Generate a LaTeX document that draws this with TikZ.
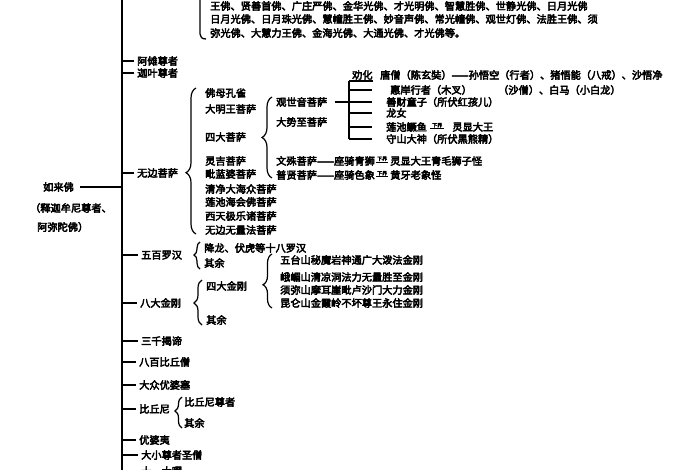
\documentclass[tikz,border=0pt]{standalone}
\usepackage{fontspec}
\newfontfamily\cjk{Noto Sans CJK SC}[FakeBold=4]
\usetikzlibrary{decorations.pathreplacing,calc}
\tikzset{
  lab/.style={anchor=west,inner sep=0pt,font=\cjk\fontsize{10.2}{12}\selectfont},
  sm/.style={inner sep=0pt,font=\cjk\fontsize{5}{5}\selectfont},
  ln/.style={line width=1.3pt},
  spn/.style={line width=2pt},
  thinln/.style={line width=0.7pt},
  bra/.style 2 args={decorate,decoration={brace,amplitude=#1,aspect=#2},line width=1.2pt},
}
\begin{document}
\begin{tikzpicture}[x=1pt,y=-1pt]
\useasboundingbox[fill=white] (0,0) rectangle (700,470);

% top list
\node[lab] (L1) at (210,6) {王佛、贤善首佛、广庄严佛、金华光佛、才光明佛、智慧胜佛、世静光佛、日月光佛};
\node[lab] (L2) at (210,19) {日月光佛、日月珠光佛、慧幢胜王佛、妙音声佛、常光幢佛、观世灯佛、法胜王佛、须};
\node[lab] (L3) at (210,33) {弥光佛、大慧力王佛、金海光佛、大通光佛、才光佛等。};
\coordinate (tb1) at (200,-3);
\coordinate (tb2) at (200,34);
\coordinate (tb3) at (206,39);
\draw[ln] (tb1) -- (tb2) .. controls (200,37) and (202,39) .. (tb3);

% spine
\coordinate (sT) at (122,-3);
\coordinate (sB) at (122,473);
\draw[spn] (sT) -- (sB);

\node[lab] (anan) at (137,61) {阿傩尊者};
\node[lab] (jiaye) at (137,73) {迦叶尊者};
\node[lab] (wubian) at (137,173) {无边菩萨};
\node[lab] (wubai) at (141,255) {五百罗汉};
\node[lab] (bada) at (140,303) {八大金刚};
\node[lab] (sanqian) at (141,341) {三千揭谛};
\node[lab] (babai) at (139,362) {八百比丘僧};
\node[lab] (dazhong) at (139,385) {大众优婆塞};
\node[lab] (biqiuni) at (139,409) {比丘尼};
\node[lab] (youpoyi) at (139,440) {优婆夷};
\node[lab] (daxiao) at (141,455) {大小尊者圣僧};
\node[lab] (shiyi) at (141,471) {十一大曜};
\foreach \n in {anan,jiaye,wubian,wubai,bada,sanqian,babai,dazhong,biqiuni,youpoyi,daxiao,shiyi}
  \draw[ln] (sT |- \n.west) -- ([xshift=-3pt]\n.west);

% rulaifo
\node[lab] (rulai) at (43,187) {如来佛};
\node[lab] (shijia) at (30,208) {（释迦牟尼尊者、};
\node[lab] (amituo) at (37,227) {阿弥陀佛）};
\draw[ln] ([xshift=6pt]rulai.east) -- (rulai.east -| sT);

% wubian pusa
\node[lab] (fomu) at (205,93) {佛母孔雀};
\node[lab] (daming) at (205,109) {大明王菩萨};
\node[lab] (sida) at (205,137) {四大菩萨};
\node[lab] (lingji) at (205,161) {灵吉菩萨};
\node[lab] (pilan) at (205,174) {毗蓝婆菩萨};
\node[lab] (qingjing) at (205,189) {清净大海众菩萨};
\node[lab] (lianchi) at (205,202) {莲池海会佛菩萨};
\node[lab] (xitian) at (205,216) {西天极乐诸菩萨};
\node[lab] (wuliang) at (205,230) {无边无量法菩萨};
\coordinate (b1a) at (196,234);
\coordinate (b1b) at (196,88);
\draw[bra={10pt}{0.42}] (b1a) -- (b1b);

% si da pusa
\node[lab] (guanyin) at (276,102) {观世音菩萨};
\node[lab] (dashi) at (276,122) {大势至菩萨};
\node[lab] (ws1) at (276,161) {文殊菩萨——座骑青狮};
\node[lab] (ws2) at ([xshift=15pt]ws1.east) {灵显大王青毛狮子怪};
\draw[thinln] ([xshift=1pt,yshift=-1pt]ws1.east) -- ([xshift=-2pt,yshift=-1pt]ws2.west) node[midway,above=0.6pt,sm] (xj2) {下界};
\node[lab] (pu1) at (276,175) {普贤菩萨——座骑色象};
\node[lab] (pu2) at ([xshift=15pt]pu1.east) {黄牙老象怪};
\draw[thinln] ([xshift=1pt,yshift=-1.5pt]pu1.east) -- ([xshift=-2pt,yshift=-1.5pt]pu2.west) node[midway,above=0.6pt,sm] (xj3) {下界};
\coordinate (b2a) at (272,178);
\coordinate (b2b) at (272,97);
\draw[bra={10pt}{0.5}] (b2a) -- (b2b);

% guanyin tree
\coordinate (vt) at (349,81);
\coordinate (vb) at (349,139);
\node[lab] (quanhua) at (352,75) {劝化};
\node[lab] (tangseng) at (380,75) {唐僧（陈玄奘）——孙悟空（行者）、猪悟能（八戒）、沙悟净};
\node[lab] (huian) at (390,90) {惠岸行者（木叉）};
\node[lab] (shaseng) at (498,90) {（沙僧）、白马（小白龙）};
\node[lab] (shancai) at (386,102) {善财童子（所伏红孩儿）};
\node[lab] (longnv) at (386,113) {龙女};
\node[lab] (lc1) at (386,127) {莲池鳜鱼};
\node[lab] (lc2) at ([xshift=25pt]lc1.east) {灵显大王};
\draw[thinln] ([xshift=3pt,yshift=-1.5pt]lc1.east) -- ([xshift=-8pt,yshift=-1.5pt]lc2.west) node[midway,above=0.6pt,sm] (xj1) {下界};
\node[lab] (shoushan) at (386,139) {守山大神（所伏黑熊精）};
\draw[ln] (vt) -- (vb);
\draw[ln] (vt) -- (vt -| quanhua.east);
\foreach \n in {huian,shancai,longnv,lc1,shoushan}
  \draw[ln] (vt |- \n.west) -- ++(23,0);
\draw[ln] ([xshift=8pt]guanyin.east) -- (guanyin.east -| vt);

% wubai luohan
\node[lab] (xianglong) at (204,248) {降龙、伏虎等十八罗汉};
\node[lab] (qiyu1) at (204,263) {其余};
\coordinate (b3a) at (200,269);
\coordinate (b3b) at (200,242);
\draw[bra={6pt}{0.52}] (b3a) -- (b3b);

% bada jingang
\node[lab] (sidajg) at (206,286) {四大金刚};
\node[lab] (qiyu2) at (206,320) {其余};
\coordinate (b4a) at (202,325);
\coordinate (b4b) at (202,280);
\draw[bra={8pt}{0.49}] (b4a) -- (b4b);
\node[lab] (wutai) at (280,260) {五台山秘魔岩神通广大泼法金刚};
\node[lab] (emei) at (280,277) {峨嵋山清凉洞法力无量胜至金刚};
\node[lab] (xumi) at (280,290) {须弥山摩耳崖毗卢沙门大力金刚};
\node[lab] (kunlun) at (280,303) {昆仑山金霞岭不坏尊王永住金刚};
\coordinate (b5a) at (272,308);
\coordinate (b5b) at (272,254);
\draw[bra={9pt}{0.43}] (b5a) -- (b5b);

% biqiuni
\node[lab] (bqnzz) at (184,402) {比丘尼尊者};
\node[lab] (qiyu3) at (184,423) {其余};
\coordinate (b6a) at (182,428);
\coordinate (b6b) at (182,397);
\draw[bra={7pt}{0.55}] (b6a) -- (b6b);
\end{tikzpicture}
\end{document}
